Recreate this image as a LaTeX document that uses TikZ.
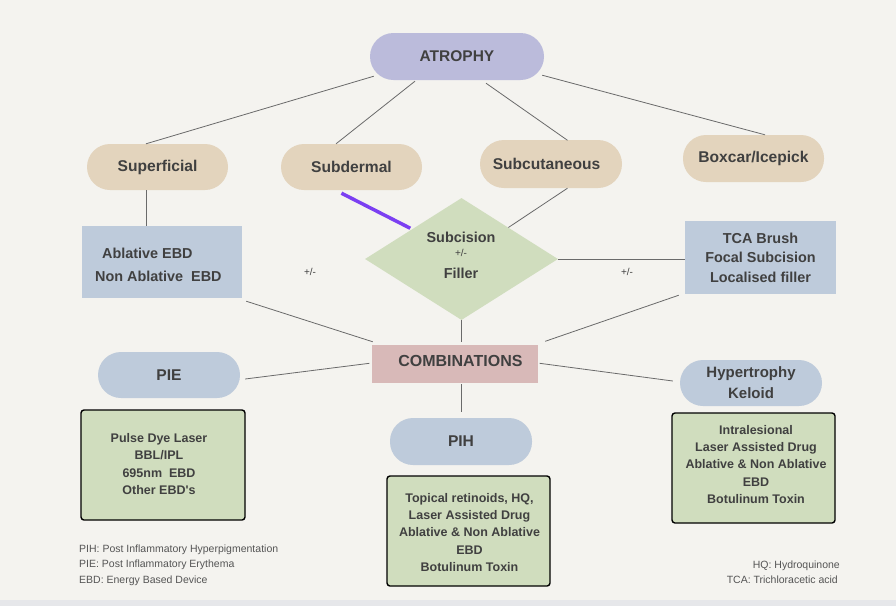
\documentclass[tikz,border=0pt]{standalone}
\usepackage{fontspec}
\setmainfont{Liberation Sans}
\usetikzlibrary{shapes.geometric,calc}
\definecolor{bg}{HTML}{F4F3EF}
\definecolor{strip}{HTML}{E6E7EA}
\definecolor{lav}{HTML}{BBBBDB}
\definecolor{tan}{HTML}{E3D4BD}
\definecolor{bluegray}{HTML}{BECBDB}
\definecolor{sage}{HTML}{D0DDBE}
\definecolor{rose}{HTML}{D8B9B8}
\definecolor{txt}{HTML}{404040}
\definecolor{note}{HTML}{555555}
\definecolor{linegray}{HTML}{6A6A6A}
\definecolor{violet}{HTML}{7B3FF2}
\begin{document}
\begin{tikzpicture}[x=1pt,y=-1pt,
  pill/.style={rounded corners=23pt, minimum width=141pt, minimum height=46pt, inner sep=0pt, text=txt, font=\fontsize{15.6}{18}\selectfont\bfseries},
  boxtext/.style={inner sep=0pt, text=txt, font=\fontsize{14.4}{19.5}\selectfont\bfseries},
  greenbox/.style={fill=sage, draw=black, line width=1.4pt, rounded corners=3pt, minimum width=164pt, minimum height=110pt, inner sep=0pt},
  greentext/.style={inner sep=0pt, align=center, text=txt, font=\fontsize{12.5}{17.3}\selectfont\bfseries},
  conn/.style={draw=linegray, line width=0.8pt},
  pm/.style={inner sep=0pt, text=txt, font=\fontsize{10}{12}\selectfont},
  notetext/.style={inner sep=0pt, text=note, font=\fontsize{10.5}{12}\selectfont}]
\fill[bg] (0,0) rectangle (896,606);
\fill[strip] (0,600) rectangle (896,606);
\useasboundingbox (0,0) rectangle (896,606);

% nodes
\node[pill, fill=lav, minimum width=174pt, minimum height=47pt, rounded corners=23.5pt, font=\fontsize{15.5}{18}\selectfont\bfseries] (atrophy) at (457,56.5) {ATROPHY};
\node[pill, fill=tan] (sup) at (157.5,167) {Superficial};
\node[pill, fill=tan] (subd) at (351.5,167) {Subdermal};
\node[pill, fill=tan, minimum width=142pt, minimum height=48pt, rounded corners=24pt] (subc) at (551,164) {Subcutaneous\hspace*{9pt}};
\node[pill, fill=tan, minimum height=47pt] (boxcar) at (753.5,158.5) {Boxcar/Icepick};

\node[fill=bluegray, minimum width=160pt, minimum height=72pt, inner sep=0pt] (abl) at (162,262) {};
\node[boxtext, anchor=west, align=left, font=\fontsize{14.4}{23}\selectfont\bfseries] (ablt) at (95,264.5) {\hspace*{7pt}Ablative EBD\\Non Ablative\ \ EBD};

\node[diamond, fill=sage, minimum width=193pt, minimum height=122pt, aspect=1.58, inner sep=0pt] (dia) at (461.5,259) {};
\node[boxtext] (dia1) at (461,237) {Subcision};
\node[pm] (dia2) at (461,253) {+/-};
\node[boxtext] (dia3) at (461,273) {Filler};

\node[fill=bluegray, minimum width=151pt, minimum height=73pt, inner sep=0pt, align=center, text=txt, font=\fontsize{14.4}{19.5}\selectfont\bfseries] (tca) at (760.5,257.5) {TCA Brush\\Focal Subcision\\Localised filler};

\node[fill=rose, minimum width=166pt, minimum height=38pt, inner sep=0pt] (comb) at (455,364) {};
\node[inner sep=0pt, text=txt, font=\fontsize{16}{19}\selectfont\bfseries] (combt) at (460.4,360.5) {COMBINATIONS};

\node[pill, fill=bluegray, minimum width=142pt] (pie) at (169,375) {PIE};
\node[pill, fill=bluegray, minimum width=142pt, minimum height=47pt] (pih) at (461,441.5) {PIH};
\node[pill, fill=bluegray, minimum width=142pt, align=center, font=\fontsize{15}{21}\selectfont\bfseries] (hyp) at (751,383) {Hypertrophy\\Keloid};

\node[greenbox] (g1) at (163,465) {};
\node[greentext] (g1t) at (159,464) {Pulse Dye Laser\\BBL/IPL\\695nm\ \ EBD\\Other EBD\textquotesingle s};
\node[greenbox, minimum width=163pt] (g2) at (468.5,531) {};
\node[greentext] (g2t) at (469.5,532.5) {Topical retinoids, HQ,\\Laser Assisted Drug\\Ablative \& Non Ablative\\EBD\\Botulinum Toxin};
\node[greenbox, minimum width=163pt] (g3) at (753.5,468) {};
\node[greentext] (g3t) at (756,464.5) {Intralesional\\Laser Assisted Drug\\Ablative \& Non Ablative\\EBD\\Botulinum Toxin};

% connectors
\draw[conn] ($(atrophy.south west)+(4,-4)$) -- ($(sup.north)+(-11.5,0)$);
\draw[conn] ($(atrophy.south)+(-42,1)$) -- ($(subd.north)+(-15.5,0)$);
\draw[conn] ($(atrophy.south)+(29,3)$) -- ($(subc.north)+(16.5,0.5)$);
\draw[conn] ($(atrophy.south east)+(-2,-5)$) -- ($(boxcar.north)+(11.5,0)$);
\draw[conn] ($(sup.south)+(-11.5,0)$) -- ($(abl.north)+(-16,0)$);
\draw[violet, line width=3.5pt] ($(subd.south)+(-10,3)$) -- ($(dia.west)!0.47!(dia.north)+(0,-2)$);
\draw[conn] ($(subc.south)+(16.5,0)$) -- ($(dia.north)!0.485!(dia.east)$);
\draw[conn] ($(boxcar.south)+(5.5,1)$) -- ($(boxcar.south)+(5.5,1)$ |- tca.north);
\draw[conn] ($(abl.east)+(9,-4)$) -- ($(abl.east)+(9,-4)$ -| dia.west);
\node[pm] (pm1) at (310,272) {+/-};
\draw[conn] (dia.east) -- (dia.east -| tca.west);
\node[pm] (pm2) at (627,272) {+/-};
\draw[conn] ($(abl.south east)+(4,3)$) -- ($(comb.north west)+(1,-3)$);
\draw[conn] ($(tca.south west)+(-6,1)$) -- ($(comb.north east)+(7,-3.5)$);
\draw[conn] (dia.south) -- ($(dia.south |- comb.north)+(0,-3)$);
\draw[conn] ($(comb.west)+(-2.5,-0.7)$) -- ($(pie.east)+(5,4)$);
\draw[conn] ($(comb.east)+(1.5,-0.7)$) -- ($(hyp.west)+(-7,-2)$);
\draw[conn] ($(comb.south)+(6,1)$) -- ($(pih.north)+(0,-6)$);

% notes
\node[notetext, anchor=west] (n1) at (79,549.3) {PIH: Post Inflammatory Hyperpigmentation};
\node[notetext, anchor=west] (n2) at (79,564.7) {PIE: Post Inflammatory Erythema};
\node[notetext, anchor=west] (n3) at (79,580.7) {EBD: Energy Based Device};
\node[notetext, anchor=east] (n4) at (840,566) {HQ: Hydroquinone};
\node[notetext, anchor=east] (n5) at (838,579.3) {TCA: Trichloracetic acid};
\end{tikzpicture}
\end{document}
